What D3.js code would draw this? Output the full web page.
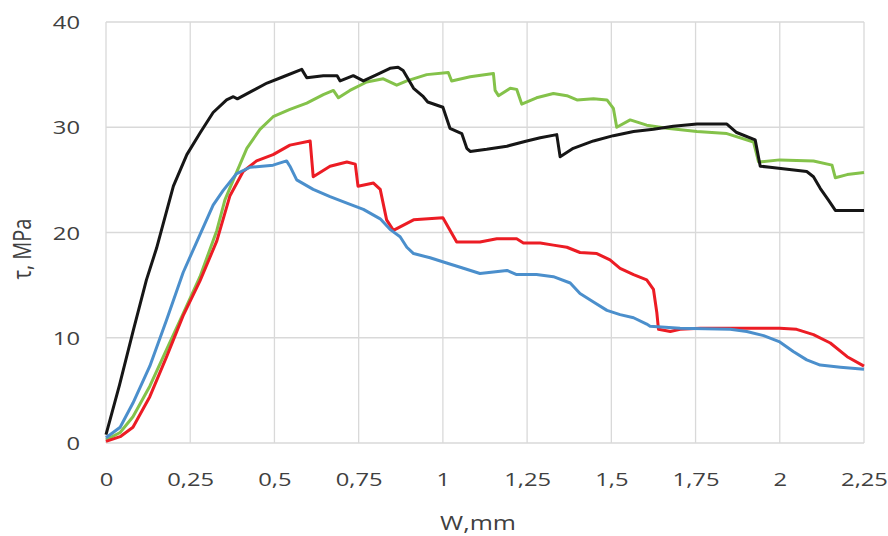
<!DOCTYPE html>
<meta charset="utf-8">
<head>
    <title>Shear stress vs displacement</title>
    <style>
        body { margin: 0; background: #fff; }
        .tick text { font-family: "Open Sans", sans-serif; fill: #404040; }
        .axis-title { font-family: "Open Sans", sans-serif; fill: #404040; }
    </style>
</head>
<body>
<script src="https://cdn.jsdelivr.net/npm/d3@7"></script>
<script>
    // tick values
    var xTicks = [0, 0.25, 0.5, 0.75, 1, 1.25, 1.5, 1.75, 2, 2.25];
    var yTicks = [0, 10, 20, 30, 40];

    // curves: [W, tau]
    var blackData = [[0,0.8],[0.04,5.5],[0.081,10.7],[0.12,15.5],[0.15,18.5],[0.2,24.4],[0.24,27.4],[0.28,29.5],[0.318,31.4],[0.358,32.6],[0.378,32.9],[0.39,32.7],[0.437,33.5],[0.478,34.2],[0.526,34.8],[0.581,35.5],[0.596,34.7],[0.645,34.9],[0.686,34.9],[0.695,34.4],[0.734,34.9],[0.764,34.4],[0.804,35.0],[0.843,35.6],[0.867,35.7],[0.882,35.4],[0.913,33.7],[0.942,32.9],[0.955,32.4],[1.0,31.9],[1.021,29.9],[1.056,29.4],[1.071,28.0],[1.081,27.7],[1.13,27.9],[1.19,28.2],[1.249,28.7],[1.289,29.0],[1.338,29.3],[1.348,27.2],[1.387,28.0],[1.447,28.7],[1.506,29.2],[1.566,29.6],[1.625,29.8],[1.684,30.1],[1.754,30.3],[1.843,30.3],[1.872,29.5],[1.927,28.8],[1.942,26.3],[1.971,26.2],[2.08,25.8],[2.1,25.3],[2.12,24.2],[2.144,23.1],[2.165,22.1],[2.25,22.1]];

    var greenData = [[0,0.3],[0.042,1.0],[0.08,2.5],[0.13,5.4],[0.18,8.9],[0.229,12.3],[0.279,15.8],[0.329,20.2],[0.353,23.1],[0.378,25.0],[0.418,28.0],[0.457,29.8],[0.496,31.0],[0.546,31.7],[0.596,32.3],[0.645,33.1],[0.675,33.5],[0.69,32.8],[0.724,33.5],[0.774,34.3],[0.823,34.6],[0.863,34.0],[0.893,34.4],[0.952,35.0],[1.016,35.2],[1.026,34.4],[1.081,34.8],[1.15,35.1],[1.155,33.5],[1.165,33.0],[1.2,33.7],[1.219,33.6],[1.234,32.2],[1.278,32.8],[1.328,33.2],[1.368,33.0],[1.398,32.6],[1.447,32.7],[1.487,32.6],[1.506,31.8],[1.516,30.0],[1.556,30.7],[1.605,30.2],[1.665,29.9],[1.754,29.6],[1.843,29.4],[1.922,28.6],[1.937,26.7],[2.0,26.9],[2.1,26.8],[2.155,26.4],[2.165,25.2],[2.2,25.5],[2.25,25.7]];

    var redData = [[0,0.15],[0.042,0.6],[0.08,1.5],[0.13,4.4],[0.18,8.2],[0.229,12.1],[0.279,15.4],[0.329,19.2],[0.368,23.5],[0.407,25.8],[0.447,26.8],[0.496,27.4],[0.546,28.3],[0.606,28.7],[0.615,25.3],[0.665,26.3],[0.715,26.7],[0.74,26.5],[0.748,24.4],[0.794,24.7],[0.814,24.1],[0.833,21.2],[0.853,20.2],[0.913,21.2],[1.0,21.4],[1.041,19.1],[1.11,19.1],[1.16,19.4],[1.219,19.4],[1.239,19.0],[1.289,19.0],[1.328,18.8],[1.368,18.6],[1.407,18.1],[1.457,18.0],[1.496,17.4],[1.526,16.6],[1.566,16.0],[1.605,15.5],[1.625,14.6],[1.635,12.4],[1.64,10.8],[1.675,10.6],[1.704,10.8],[1.764,10.9],[2.0,10.9],[2.05,10.8],[2.1,10.3],[2.15,9.5],[2.2,8.2],[2.25,7.3]];

    var blueData = [[0,0.5],[0.042,1.5],[0.08,3.8],[0.13,7.3],[0.18,11.7],[0.229,16.2],[0.279,19.8],[0.318,22.6],[0.348,24.0],[0.388,25.6],[0.428,26.2],[0.496,26.4],[0.536,26.8],[0.546,26.3],[0.566,25.0],[0.615,24.1],[0.665,23.4],[0.715,22.8],[0.764,22.2],[0.814,21.3],[0.843,20.3],[0.873,19.6],[0.893,18.6],[0.913,18.0],[0.962,17.6],[1.011,17.1],[1.061,16.6],[1.11,16.1],[1.19,16.4],[1.219,16.0],[1.278,16.0],[1.328,15.8],[1.378,15.2],[1.407,14.2],[1.447,13.4],[1.487,12.6],[1.526,12.2],[1.566,11.9],[1.605,11.3],[1.615,11.1],[1.704,10.9],[1.853,10.8],[1.902,10.6],[1.952,10.2],[2.0,9.6],[2.04,8.7],[2.08,7.9],[2.12,7.4],[2.18,7.2],[2.25,7.0]];

    var series = [
        { data: greenData, color: "#84c24a" },
        { data: blackData, color: "#161616" },
        { data: redData, color: "#ec1c24" },
        { data: blueData, color: "#4b8fcc" }
    ];

    var margin = { top: 22, right: 24, bottom: 93, left: 106 },
        width = 888 - margin.left - margin.right,
        height = 536 - margin.top - margin.bottom;

    var svg = d3.select("body").append("svg")
        .attr("width", 888)
        .attr("height", 536);

    var g = svg.append("g")
        .attr("transform", "translate(" + margin.left + "," + margin.top + ")");

    var x = d3.scaleLinear().domain([0, 2.25]).range([0, width]);
    var y = d3.scaleLinear().domain([0, 40]).range([height, 0]);

    var fmt = function(d) { return String(d).replace(".", ","); };

    // gridlines
    g.append("g").selectAll("line").data(xTicks).enter().append("line")
        .attr("x1", d => x(d)).attr("x2", d => x(d))
        .attr("y1", 0).attr("y2", height)
        .attr("stroke", "#d9d9d9").attr("stroke-width", 1.3);
    g.append("g").selectAll("line").data(yTicks).enter().append("line")
        .attr("x1", 0).attr("x2", width)
        .attr("y1", d => y(d)).attr("y2", d => y(d))
        .attr("stroke", "#d9d9d9").attr("stroke-width", 1.3);

    // axes
    var xAxis = g.append("g")
        .attr("transform", "translate(0," + height + ")")
        .call(d3.axisBottom(x).tickValues(xTicks).tickFormat(fmt).tickSize(0).tickPadding(0));
    xAxis.select(".domain").remove();
    xAxis.selectAll("text")
        .attr("dy", null).attr("y", 0)
        .attr("transform", "translate(0,43) scale(1.25,1)")
        .style("font-size", "19px");

    var yAxis = g.append("g")
        .call(d3.axisLeft(y).tickValues(yTicks).tickSize(0).tickPadding(0));
    yAxis.select(".domain").remove();
    yAxis.selectAll("text")
        .attr("x", 0).attr("dy", "0.35em")
        .attr("transform", "translate(-26,0) scale(1.25,1)")
        .style("font-size", "19px");

    // curves
    var line = d3.line().x(d => x(d[0])).y(d => y(d[1]));
    g.selectAll(".curve").data(series).enter().append("path")
        .attr("class", "curve")
        .attr("d", d => line(d.data))
        .attr("fill", "none")
        .attr("stroke", d => d.color)
        .attr("stroke-width", 3)
        .attr("stroke-linejoin", "round");

    // axis titles
    svg.append("text")
        .attr("class", "axis-title")
        .attr("text-anchor", "middle")
        .attr("transform", "translate(478,530) scale(1.25,1)")
        .style("font-size", "20px")
        .text("W,mm");

    svg.append("text")
        .attr("class", "axis-title")
        .attr("text-anchor", "middle")
        .attr("transform", "translate(31,249) rotate(-90) scale(1,1.25)")
        .style("font-size", "20px")
        .text("τ, MPa");
</script>
</body>
</html>
